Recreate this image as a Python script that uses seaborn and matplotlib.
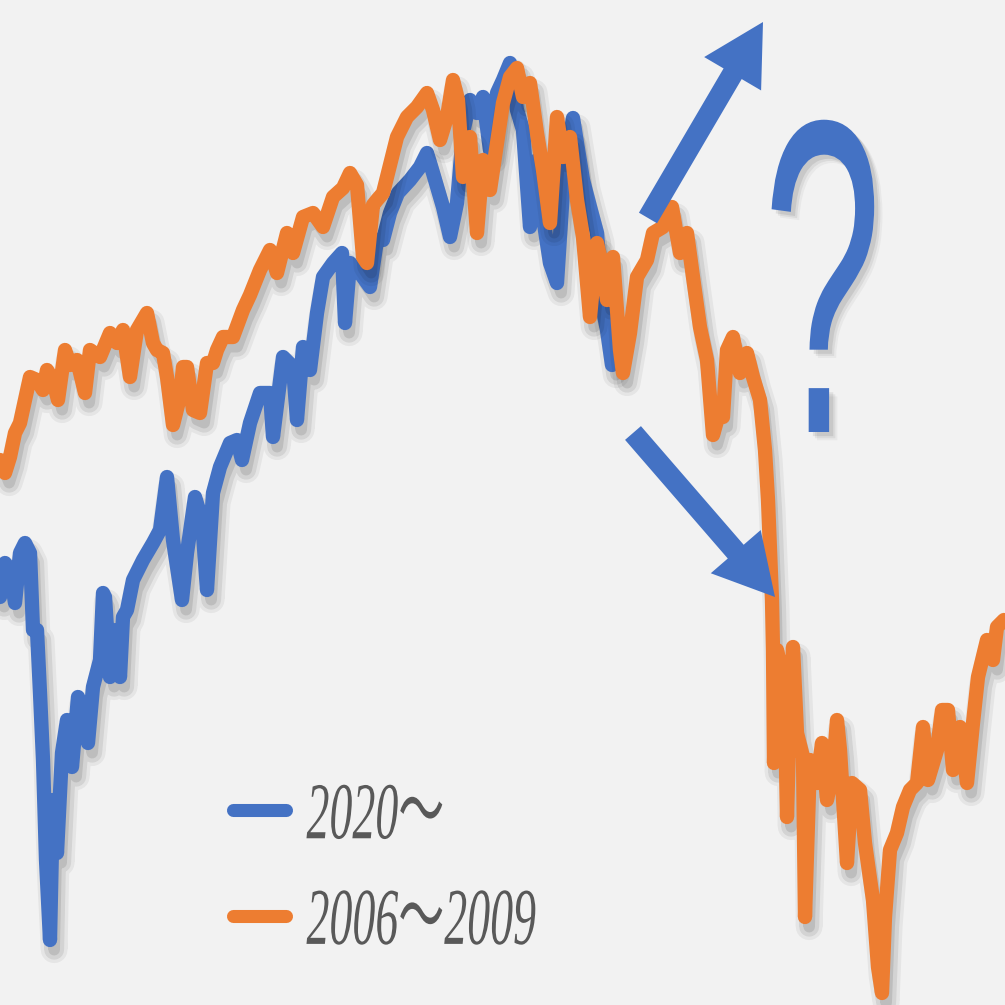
import pandas as pd
import matplotlib
matplotlib.use("Agg")
import matplotlib.pyplot as plt
import matplotlib.patheffects as pe
import matplotlib.colors as mcolors
from matplotlib.transforms import Affine2D
import seaborn as sns

# 2020~ series (relative index level)
blue_t = [0, 5, 10, 15, 20, 25, 30, 33, 37, 40, 43, 46, 50, 53, 57, 62, 67, 72, 78, 83,
          88, 93, 100, 103, 105, 110, 113, 117, 120, 123, 127, 133, 143, 153, 160, 167,
          173, 182, 187, 195, 202, 207, 213, 220, 230, 237, 242, 250, 260, 270, 273,
          283, 293, 297, 303, 310, 317, 323, 333, 342, 345, 350, 360, 370, 377, 383,
          390, 398, 410, 420, 427, 433, 443, 450, 457, 463, 470, 477, 483, 490, 497,
          503, 510, 517, 523, 530, 537, 543, 550, 557, 563, 570, 573, 577, 583, 590,
          597, 603, 607, 612]
blue_v = [408, 442, 435, 402, 452, 462, 452, 375, 375, 312, 245, 145, 65, 205, 152, 252,
          285, 238, 308, 292, 262, 318, 345, 412, 408, 328, 375, 365, 328, 388, 395, 425,
          445, 462, 475, 528, 465, 405, 452, 508, 485, 415, 512, 538, 562, 565, 545, 582,
          612, 612, 568, 648, 638, 585, 658, 635, 692, 728, 742, 752, 682, 742, 732, 718,
          765, 765, 792, 812, 825, 838, 852, 832, 798, 768, 802, 872, 905, 892, 908, 855,
          912, 925, 942, 895, 875, 778, 845, 788, 742, 722, 815, 868, 887, 862, 825, 798,
          772, 695, 675, 640]

# 2006~2009 series
orange_t = [0, 5, 10, 15, 20, 25, 30, 37, 43, 47, 53, 58, 65, 70, 77, 85, 90, 100, 110,
            117, 123, 130, 137, 147, 153, 157, 163, 167, 173, 180, 183, 187, 193, 200,
            207, 213, 217, 223, 233, 243, 250, 260, 270, 277, 287, 293, 303, 313, 323,
            333, 343, 350, 357, 363, 367, 373, 377, 383, 387, 397, 407, 417, 427, 433,
            440, 447, 453, 458, 463, 470, 477, 483, 490, 497, 503, 510, 517, 523, 530,
            537, 543, 550, 557, 563, 570, 577, 583, 590, 597, 603, 607, 613, 620, 623,
            630, 637, 647, 653, 663, 672, 680, 687, 693, 700, 707, 713, 720, 723, 727,
            733, 740, 747, 753, 760, 765, 768, 770, 772, 773, 774, 777, 781, 784, 787,
            790, 793, 797, 803, 805, 810, 817, 822, 827, 833, 837, 840, 847, 852, 860,
            865, 873, 878, 882, 885, 890, 897, 903, 910, 917, 923, 928, 937, 942, 948,
            953, 960, 967, 973, 978, 987, 993, 997, 1004]
orange_v = [545, 532, 548, 572, 582, 605, 628, 625, 615, 635, 625, 605, 655, 640, 645,
            612, 655, 648, 672, 662, 675, 628, 675, 692, 662, 655, 652, 628, 580, 608,
            638, 638, 595, 592, 642, 642, 655, 668, 668, 695, 710, 735, 755, 732, 772,
            752, 788, 792, 778, 808, 817, 832, 820, 748, 742, 800, 805, 812, 828, 868,
            888, 898, 912, 895, 865, 888, 925, 905, 828, 868, 772, 845, 815, 862, 902,
            928, 937, 908, 922, 872, 835, 782, 888, 848, 868, 805, 768, 688, 762, 735,
            705, 748, 655, 632, 672, 728, 745, 772, 778, 798, 752, 772, 728, 678, 645,
            570, 595, 588, 655, 668, 632, 652, 628, 605, 555, 505, 455, 405, 355, 242,
            355, 335, 338, 188, 300, 358, 272, 248, 88, 245, 222, 262, 205, 235, 285,
            255, 142, 222, 215, 162, 105, 38, 12, 88, 155, 172, 198, 215, 222, 278, 225,
            255, 295, 295, 235, 278, 222, 282, 328, 365, 345, 378, 385]

labels = ["2020～", "2006～2009"]

BLUE = "#4472c4"
ORANGE = "#ed7d31"
BG = "#f2f2f2"
LW = 10.3

# arrows: (x, y, dx, dy) in chart units
arrow_up = (648, 787, 115, 196)
arrow_down = (633, 572, 142, -164)


class Squeeze(pe.AbstractPathEffect):
    """Draw text narrower than the font does (the picture uses a condensed face)."""

    def __init__(self, sx, offset=(0, 0), color=None, alpha=None, center=False):
        super().__init__(offset)
        self.sx = sx
        self.color = color
        self.alpha = alpha
        self.center = center

    def draw_path(self, renderer, gc, tpath, affine, rgbFace=None):
        gc0 = renderer.new_gc()
        gc0.copy_properties(gc)
        face = rgbFace
        if self.color is not None:
            face = mcolors.to_rgb(self.color)
            gc0.set_foreground("none")
            gc0.set_alpha(self.alpha)
        gc0.set_linewidth(0)
        cx = 0
        if self.center:
            ext = tpath.get_extents()
            cx = (ext.x0 + ext.x1) / 2
        squeeze = Affine2D().translate(-cx, 0).scale(self.sx, 1).translate(cx, 0)
        tr = squeeze + affine + self._offset_transform(renderer)
        renderer.draw_path(gc0, tpath, tr, face)
        gc0.restore()


def line_shadow(lw):
    return [
        pe.SimpleLineShadow(offset=(3, -7), shadow_color="k", alpha=0.05, linewidth=lw + 9),
        pe.SimpleLineShadow(offset=(3, -7), shadow_color="k", alpha=0.08, linewidth=lw + 4),
        pe.SimpleLineShadow(offset=(3, -7), shadow_color="k", alpha=0.10, linewidth=lw - 2),
        pe.Normal(),
    ]


fig = plt.figure(figsize=(10.05, 10.05), dpi=100, facecolor=BG)
ax = fig.add_axes([0, 0, 1, 1])
ax.set_facecolor(BG)

df_blue = pd.DataFrame({"t": blue_t, "v": blue_v})
df_orange = pd.DataFrame({"t": orange_t, "v": orange_v})

sns.lineplot(data=df_blue, x="t", y="v", color=BLUE, linewidth=LW, sort=False,
             label=labels[0], ax=ax, solid_joinstyle="round", solid_capstyle="round",
             path_effects=line_shadow(LW), zorder=2)
sns.lineplot(data=df_orange, x="t", y="v", color=ORANGE, linewidth=LW, sort=False,
             label=labels[1], ax=ax, solid_joinstyle="round", solid_capstyle="round",
             path_effects=line_shadow(LW), zorder=3)

for (x, y, dx, dy) in (arrow_up, arrow_down):
    ax.arrow(x, y, dx, dy, width=21, head_width=66, head_length=60,
             length_includes_head=True, color=BLUE, lw=0, zorder=4)

q_sx = 0.48
q_fx = [Squeeze(q_sx, offset=(o, -o), color="k", alpha=a, center=True)
        for o, a in ((6, 0.04), (4.5, 0.06), (3, 0.08))]
q_fx.append(Squeeze(q_sx, center=True))
ax.text(822, 573, "?", family="Liberation Sans", fontsize=322, color=BLUE,
        ha="center", va="baseline", path_effects=q_fx, zorder=5)

ax.set_xlim(0, 1005)
ax.set_ylim(0, 1005)
ax.axis("off")

leg = ax.legend(loc="upper left", bbox_to_anchor=(0.232, 0.222), frameon=False,
                prop={"family": ["Liberation Serif", "Noto Sans CJK JP"], "style": "italic", "size": 58},
                handlelength=0.66, handletextpad=0.25, labelspacing=0.4,
                borderpad=0, borderaxespad=0)
for ln in leg.get_lines():
    ln.set_path_effects([])
    ln.set_solid_capstyle("round")
    ln.set_linewidth(9.4)
for txt in leg.get_texts():
    txt.set_color("#595959")
    txt.set_path_effects([Squeeze(0.57)])

fig.savefig("out.png", dpi=100, facecolor=BG)
